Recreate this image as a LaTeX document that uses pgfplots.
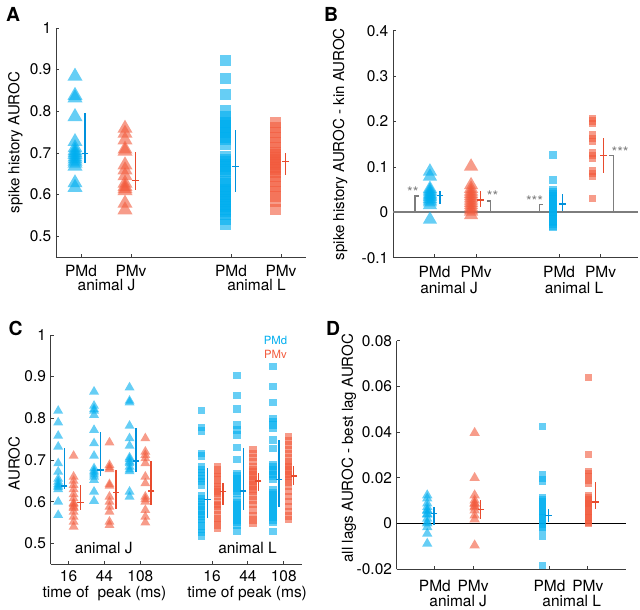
\documentclass[border=0pt]{standalone}
\usepackage{fontspec}
\setmainfont{TeX Gyre Heros}
\usepackage{pgfplots}
\pgfplotsset{compat=1.18}
\definecolor{cy}{RGB}{0,174,239}
\definecolor{rd}{RGB}{242,90,60}
\definecolor{cyb}{RGB}{0,145,220}
\definecolor{rdb}{RGB}{232,75,45}
\definecolor{axc}{RGB}{60,60,60}
\definecolor{brk}{RGB}{125,125,125}
\tikzset{txt/.style={anchor=base, inner sep=0pt, font=\fontsize{11.6}{13}\selectfont}}
\pgfplotsset{
  panel/.style={scale only axis, axis x line=bottom, axis y line=left,
    axis line style={-, draw=axc, line width=0.6pt},
    tick align=inside, major tick length=2.5pt, tick style={axc, line width=0.6pt},
    clip=false, enlargelimits=false,
    tick label style={font=\fontsize{11.6}{13}\selectfont},
    label style={font=\fontsize{11.3}{13}\selectfont},
    /pgf/number format/assume math mode=true,
    xtick={1,2,4,5}, xticklabels={PMd,PMv,PMd,PMv},
  },
  mkc/.style={only marks, mark options={draw opacity=0, fill=cy, fill opacity=0.6}},
  mkr/.style={only marks, mark options={draw opacity=0, fill=rd, fill opacity=0.6}},
  eb/.style={color=#1, only marks, mark=-, mark size=2.4pt, mark options={line width=1pt, draw=#1},
    error bars/y dir=both, error bars/y explicit, error bars/error mark=none,
    error bars/error bar style={line width=1pt, draw=#1}},
}
\begin{document}
\begin{tikzpicture}
\path[use as bounding box] (0,0) rectangle (480pt,457.5pt);
\node[anchor=base west, font=\bfseries\fontsize{14.5}{16}\selectfont] at (1pt,441pt) {A};
\node[anchor=base west, font=\bfseries\fontsize{14.5}{16}\selectfont] at (239.5pt,441pt) {B};
\node[anchor=base west, font=\bfseries\fontsize{14.5}{16}\selectfont] at (3pt,206pt) {C};
\node[anchor=base west, font=\bfseries\fontsize{14.5}{16}\selectfont] at (241pt,206pt) {D};

% ---------------- A ----------------
\begin{axis}[panel, at={(42pt,264.75pt)}, anchor=south west, width=187.5pt, height=171.75pt,
  xmin=0.5, xmax=5.5, ymin=0.45, ymax=1, ytick={0.5,0.6,0.7,0.8,0.9,1},
  ylabel={spike history AUROC}, ylabel style={at={(axis description cs:-0.162,0.5)},anchor=center},
  xticklabel style={anchor=base,inner sep=0pt,yshift=-15pt}]
\addplot[mkc, mark=triangle*, mark size=6.5pt] table[x expr=0.88, y index=0, header=false, row sep=\\]
{0.884\\0.838\\0.832\\0.787\\0.727\\0.712\\0.705\\0.700\\0.696\\0.690\\0.685\\0.680\\0.675\\0.668\\0.628\\0.617\\};
\addplot[mkr, mark=triangle*, mark size=6.5pt] table[x expr=1.88, y index=0, header=false, row sep=\\]
{0.759\\0.747\\0.731\\0.709\\0.704\\0.671\\0.659\\0.645\\0.627\\0.619\\0.614\\0.609\\0.579\\0.563\\};
\addplot[mkc, mark=square*, mark size=4.1pt] table[x expr=3.89, y index=0, header=false, row sep=\\]
{0.922\\0.878\\0.840\\0.803\\0.787\\0.779\\0.772\\0.767\\0.760\\0.755\\0.748\\0.743\\0.736\\0.731\\0.719\\0.691\\0.685\\0.679\\0.673\\0.667\\0.661\\0.655\\0.645\\0.631\\0.626\\0.619\\0.613\\0.607\\0.601\\0.595\\0.589\\0.583\\0.577\\0.571\\0.565\\0.559\\0.553\\0.539\\0.527\\};
\addplot[mkr, mark=square*, mark size=4.1pt] table[x expr=4.89, y index=0, header=false, row sep=\\]
{0.772\\0.760\\0.748\\0.736\\0.724\\0.712\\0.702\\0.696\\0.690\\0.684\\0.678\\0.672\\0.666\\0.660\\0.652\\0.644\\0.632\\0.620\\0.608\\0.596\\0.582\\0.565\\};
\addplot[eb=cyb] table[x=x,y=c,y error plus expr=\thisrow{hi}-\thisrow{c},y error minus expr=\thisrow{c}-\thisrow{lo},row sep=\\] {x c lo hi\\1.08 0.699 0.675 0.797\\4.09 0.667 0.607 0.754\\};
\addplot[eb=rdb] table[x=x,y=c,y error plus expr=\thisrow{hi}-\thisrow{c},y error minus expr=\thisrow{c}-\thisrow{lo},row sep=\\] {x c lo hi\\2.09 0.633 0.611 0.701\\5.09 0.680 0.647 0.699\\};
\node[txt] at (axis cs:1.51,0.45) [yshift=-25.3pt] {animal J};
\node[txt] at (axis cs:4.51,0.45) [yshift=-25.3pt] {animal L};
\end{axis}

% ---------------- B ----------------
\begin{axis}[panel, at={(294.75pt,264.2pt)}, anchor=south west, width=183.75pt, height=170.25pt,
  xmin=0, xmax=5.9, ymin=-0.1, ymax=0.4, ytick={-0.1,0,0.1,0.2,0.3,0.4},
  ylabel={spike history AUROC - kin AUROC}, ylabel style={at={(axis description cs:-0.216,0.5)},anchor=center},
  xticklabel style={anchor=base,inner sep=0pt,yshift=-14.7pt}]
\addplot[mkc, mark=triangle*, mark size=6.2pt] table[x expr=0.89, y index=0, header=false, row sep=\\]
{0.090\\0.079\\0.052\\0.048\\0.044\\0.040\\0.037\\0.034\\0.030\\0.026\\0.022\\0.016\\-0.016\\};
\addplot[mkr, mark=triangle*, mark size=6.2pt] table[x expr=1.88, y index=0, header=false, row sep=\\]
{0.101\\0.060\\0.052\\0.046\\0.041\\0.036\\0.031\\0.026\\0.021\\0.016\\0.011\\0.006\\0.002\\-0.006\\};
\addplot[mkc, mark=square*, mark size=2.75pt] table[x expr=3.85, y index=0, header=false, row sep=\\]
{0.126\\0.071\\0.049\\0.045\\0.041\\0.037\\0.033\\0.029\\0.025\\0.021\\0.017\\0.013\\0.009\\0.005\\0.001\\-0.003\\-0.007\\-0.011\\-0.015\\-0.019\\-0.023\\-0.027\\-0.031\\-0.034\\};
\addplot[mkr, mark=square*, mark size=2.75pt] table[x expr=4.81, y index=0, header=false, row sep=\\]
{0.207\\0.201\\0.195\\0.170\\0.163\\0.156\\0.131\\0.125\\0.119\\0.091\\0.085\\0.079\\0.030\\};
\addplot[brk, line width=1.5pt] coordinates {(0,0) (5.9,0)};
\addplot[brk, line width=0.9pt] coordinates {(0.53,0) (0.53,0.036) (0.63,0.036)};
\addplot[brk, line width=0.9pt] coordinates {(2.26,0.025) (2.34,0.025) (2.34,0)};
\addplot[brk, line width=0.9pt] coordinates {(3.52,0) (3.52,0.017) (3.61,0.017)};
\addplot[brk, line width=0.9pt] coordinates {(5.21,0.125) (5.31,0.125) (5.31,0)};
\addplot[eb=cyb] table[x=x,y=c,y error plus expr=\thisrow{hi}-\thisrow{c},y error minus expr=\thisrow{c}-\thisrow{lo},row sep=\\] {x c lo hi\\1.13 0.037 0.018 0.047\\4.08 0.018 0.002 0.040\\};
\addplot[eb=rdb] table[x=x,y=c,y error plus expr=\thisrow{hi}-\thisrow{c},y error minus expr=\thisrow{c}-\thisrow{lo},row sep=\\] {x c lo hi\\2.11 0.027 0.011 0.046\\5.07 0.125 0.086 0.163\\};
\node[text=brk, font=\fontsize{11}{12}\selectfont] at (axis cs:0.48,0.052) [yshift=-2.5pt] {**};
\node[text=brk, font=\fontsize{11}{12}\selectfont] at (axis cs:2.40,0.044) [yshift=-2.5pt] {**};
\node[text=brk, font=\fontsize{11}{12}\selectfont] at (axis cs:3.41,0.033) [yshift=-2.5pt] {***};
\node[text=brk, font=\fontsize{11}{12}\selectfont] at (axis cs:5.47,0.140) [yshift=-2.5pt] {***};
\node[txt] at (axis cs:1.35,-0.1) [yshift=-26.7pt] {animal J};
\node[txt] at (axis cs:4.36,-0.1) [yshift=-26.7pt] {animal L};
\end{axis}

% ---------------- C ----------------
\begin{axis}[panel, at={(38pt,34.3pt)}, anchor=south west, width=188.25pt, height=172pt,
  xmin=0.5, xmax=7.5, ymin=0.45, ymax=1, ytick={0.5,0.6,0.7,0.8,0.9,1},
  xtick={1,2,3,5,6,7}, xticklabels={16,44,108,16,44,108},
  ylabel={AUROC}, ylabel style={at={(axis description cs:-0.146,0.44)},anchor=center},
  xticklabel style={anchor=base,inner sep=0pt,yshift=-13.3pt}]
% animal J
\addplot[mkc, mark=triangle*, mark size=4.3pt] table[x expr=0.71, y index=0, header=false, row sep=\\]
{0.818\\0.790\\0.758\\0.732\\0.692\\0.672\\0.655\\0.648\\0.642\\0.638\\0.635\\0.630\\0.600\\0.568\\};
\addplot[mkr, mark=triangle*, mark size=4.3pt] table[x expr=1.14, y index=0, header=false, row sep=\\]
{0.710\\0.660\\0.650\\0.640\\0.630\\0.618\\0.608\\0.597\\0.594\\0.588\\0.585\\0.576\\0.564\\0.552\\0.540\\};
\addplot[mkc, mark=triangle*, mark size=4.3pt] table[x expr=1.71, y index=0, header=false, row sep=\\]
{0.864\\0.830\\0.822\\0.818\\0.808\\0.772\\0.740\\0.710\\0.680\\0.674\\0.670\\0.665\\0.660\\0.652\\0.624\\0.602\\};
\addplot[mkr, mark=triangle*, mark size=4.3pt] table[x expr=2.14, y index=0, header=false, row sep=\\]
{0.742\\0.688\\0.682\\0.678\\0.642\\0.638\\0.612\\0.600\\0.588\\0.576\\0.552\\0.544\\};
\addplot[mkc, mark=triangle*, mark size=4.3pt] table[x expr=2.70, y index=0, header=false, row sep=\\]
{0.874\\0.842\\0.838\\0.782\\0.752\\0.734\\0.706\\0.702\\0.696\\0.692\\0.684\\0.677\\0.673\\0.624\\0.612\\};
\addplot[mkr, mark=triangle*, mark size=4.3pt] table[x expr=3.14, y index=0, header=false, row sep=\\]
{0.752\\0.720\\0.712\\0.704\\0.692\\0.660\\0.644\\0.612\\0.606\\0.600\\0.580\\0.564\\0.550\\};
% animal L
\addplot[mkc, mark=square*, mark size=2.75pt] table[x expr=4.71, y index=0, header=false, row sep=\\]
{0.818\\0.778\\0.770\\0.716\\0.710\\0.684\\0.678\\0.670\\0.662\\0.655\\0.648\\0.640\\0.614\\0.608\\0.600\\0.594\\0.588\\0.582\\0.576\\0.570\\0.564\\0.558\\0.550\\0.542\\0.534\\0.526\\0.518\\};
\addplot[mkr, mark=square*, mark size=2.75pt] table[x expr=5.15, y index=0, header=false, row sep=\\]
{0.684\\0.676\\0.668\\0.660\\0.652\\0.644\\0.636\\0.630\\0.624\\0.620\\0.612\\0.600\\0.594\\0.590\\0.580\\0.570\\0.560\\0.552\\0.544\\0.536\\};
\addplot[mkc, mark=square*, mark size=2.75pt] table[x expr=5.70, y index=0, header=false, row sep=\\]
{0.902\\0.854\\0.822\\0.784\\0.772\\0.760\\0.730\\0.702\\0.668\\0.662\\0.656\\0.650\\0.644\\0.638\\0.632\\0.626\\0.620\\0.604\\0.598\\0.592\\0.586\\0.580\\0.574\\0.568\\0.562\\0.556\\0.550\\0.544\\0.530\\};
\addplot[mkr, mark=square*, mark size=2.75pt] table[x expr=6.14, y index=0, header=false, row sep=\\]
{0.726\\0.716\\0.706\\0.696\\0.684\\0.678\\0.672\\0.666\\0.660\\0.654\\0.648\\0.642\\0.636\\0.630\\0.624\\0.614\\0.604\\0.594\\0.580\\0.566\\0.556\\0.548\\};
\addplot[mkc, mark=square*, mark size=2.75pt] table[x expr=6.70, y index=0, header=false, row sep=\\]
{0.924\\0.876\\0.838\\0.800\\0.792\\0.784\\0.776\\0.748\\0.728\\0.690\\0.684\\0.678\\0.672\\0.666\\0.660\\0.654\\0.628\\0.622\\0.616\\0.610\\0.604\\0.598\\0.592\\0.586\\0.580\\0.574\\0.568\\0.562\\0.556\\0.550\\0.528\\};
\addplot[mkr, mark=square*, mark size=2.75pt] table[x expr=7.13, y index=0, header=false, row sep=\\]
{0.756\\0.746\\0.736\\0.726\\0.716\\0.706\\0.696\\0.690\\0.684\\0.678\\0.672\\0.666\\0.660\\0.654\\0.646\\0.636\\0.624\\0.612\\0.600\\0.588\\0.576\\0.566\\0.558\\};
\addplot[eb=cyb] table[x=x,y=c,y error plus expr=\thisrow{hi}-\thisrow{c},y error minus expr=\thisrow{c}-\thisrow{lo},row sep=\\] {x c lo hi\\0.88 0.638 0.630 0.728\\1.885 0.676 0.662 0.768\\2.88 0.698 0.672 0.776\\4.87 0.606 0.562 0.682\\5.87 0.626 0.580 0.728\\6.87 0.654 0.588 0.748\\};
\addplot[eb=rdb] table[x=x,y=c,y error plus expr=\thisrow{hi}-\thisrow{c},y error minus expr=\thisrow{c}-\thisrow{lo},row sep=\\] {x c lo hi\\1.33 0.598 0.580 0.640\\2.32 0.622 0.582 0.676\\3.30 0.626 0.592 0.698\\5.31 0.624 0.592 0.646\\6.29 0.650 0.626 0.670\\7.28 0.662 0.640 0.686\\};
\node[txt] at (axis cs:1.98,0.476) {animal J};
\node[txt] at (axis cs:5.99,0.476) {animal L};
\node[txt] at (axis cs:2.0,0.45) [yshift=-25pt] {time of\ \ peak (ms)};
\node[txt] at (axis cs:5.98,0.45) [yshift=-25pt] {time of peak (ms)};
\node[text=cy, font=\fontsize{8.5}{10}\selectfont] at (axis cs:6.77,0.986) {PMd};
\node[text=rd, font=\fontsize{8.5}{10}\selectfont] at (axis cs:6.77,0.953) {PMv};
\end{axis}

% ---------------- D ----------------
\begin{axis}[panel, at={(297.5pt,30.5pt)}, anchor=south west, width=172pt, height=171.45pt,
  xmin=0, xmax=6, ymin=-0.02, ymax=0.08, ytick={-0.02,0,0.02,0.04,0.06,0.08},
  scaled y ticks=false, yticklabel style={/pgf/number format/fixed, /pgf/number format/precision=2},
  ylabel={all lags AUROC - best lag AUROC}, ylabel style={at={(axis description cs:-0.208,0.53)},anchor=center},
  xticklabel style={anchor=base,inner sep=0pt,yshift=-16.5pt}]
\addplot[mkc, mark=triangle*, mark size=4.5pt] table[x expr=0.80, y index=0, header=false, row sep=\\]
{0.0124\\0.0110\\0.0088\\0.0073\\0.0060\\0.0056\\0.0043\\0.0039\\0.0022\\0.0005\\0.0001\\-0.0015\\-0.0044\\-0.0088\\};
\addplot[mkr, mark=triangle*, mark size=4.5pt] table[x expr=2.04, y index=0, header=false, row sep=\\]
{0.0397\\0.0200\\0.0124\\0.0102\\0.0090\\0.0086\\0.0075\\0.0071\\0.0058\\0.0036\\0.0019\\-0.0095\\};
\addplot[mkc, mark=square*, mark size=2.6pt] table[x expr=3.81, y index=0, header=false, row sep=\\]
{0.0423\\0.0215\\0.0195\\0.0185\\0.0115\\0.0105\\0.0095\\0.0085\\0.0075\\0.0065\\0.0055\\0.0045\\0.0035\\0.0025\\0.0015\\0.0005\\-0.0005\\-0.0015\\-0.0025\\-0.0055\\-0.0182\\};
\addplot[mkr, mark=square*, mark size=2.6pt] table[x expr=5.01, y index=0, header=false, row sep=\\]
{0.0639\\0.0304\\0.0230\\0.0220\\0.0205\\0.0190\\0.0175\\0.0125\\0.0115\\0.0105\\0.0098\\0.0090\\0.0082\\0.0075\\0.0065\\0.0055\\0.0045\\0.0035\\0.0025\\0.0015\\0.0005\\0.0000\\};
\addplot[black, line width=0.8pt] coordinates {(0,0) (6,0)};
\addplot[eb=cyb] table[x=x,y=c,y error plus expr=\thisrow{hi}-\thisrow{c},y error minus expr=\thisrow{c}-\thisrow{lo},row sep=\\] {x c lo hi\\0.98 0.0044 -0.0007 0.0073\\3.97 0.0036 0.0007 0.0066\\};
\addplot[eb=rdb] table[x=x,y=c,y error plus expr=\thisrow{hi}-\thisrow{c},y error minus expr=\thisrow{c}-\thisrow{lo},row sep=\\] {x c lo hi\\2.20 0.0061 0.0022 0.0102\\5.20 0.0095 0.0066 0.0182\\};
\node[txt] at (axis cs:1.61,-0.02) [yshift=-28pt] {animal J};
\node[txt] at (axis cs:4.58,-0.02) [yshift=-28pt] {animal L};
\end{axis}
\end{tikzpicture}
\end{document}
